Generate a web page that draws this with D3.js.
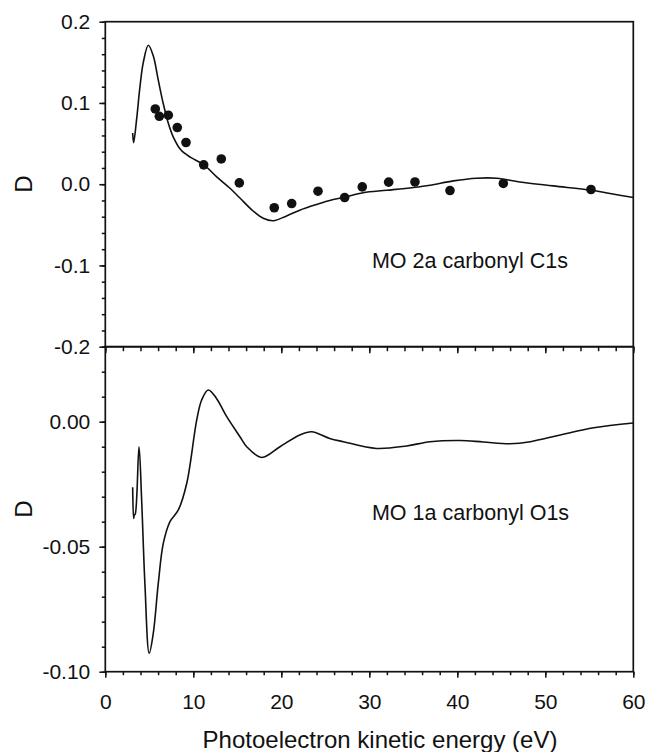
<!DOCTYPE html>
<html>
<head>
<meta charset="utf-8">
<script src="https://cdn.jsdelivr.net/npm/d3@7"></script>
<style>
  html, body { margin: 0; padding: 0; background: #fff; }
  svg { display: block; font-family: "Liberation Sans", Arial, Helvetica, sans-serif; }
</style>
</head>
<body>
<svg id="chart" width="646" height="752"></svg>
<script>
// ---- Data ----
// Top panel: MO 2a carbonyl C1s — theory curve
const topCurveE = [3.11, 3.22, 3.56, 3.94, 4.32, 4.89, 5.45, 6.02, 6.59, 7.16, 7.73, 8.6, 9.7, 11.18, 12.66, 14.17, 15.3, 16.8, 17.95, 19.1, 20.6, 22.1, 24.0, 25.5, 27.2, 29.3, 32.0, 35.0, 36.9, 39.55, 42.2, 44.5, 47.1, 50.9, 55.2, 57.35, 60];
const topCurveD = [0.063, 0.051, 0.08, 0.12, 0.15, 0.171, 0.158, 0.128, 0.099, 0.075, 0.058, 0.042, 0.033, 0.024, 0.009, -0.005, -0.017, -0.033, -0.042, -0.045, -0.039, -0.032, -0.025, -0.020, -0.016, -0.0105, -0.0075, -0.004, -0.0012, 0.0041, 0.0074, 0.0074, 0.0028, -0.0021, -0.0074, -0.0115, -0.0164];
// Top panel: experimental points
const dotE = [5.68, 6.14, 7.16, 8.18, 9.17, 11.18, 13.18, 15.23, 19.2, 21.18, 24.17, 27.2, 29.2, 32.2, 35.19, 39.17, 45.23, 55.19];
const dotD = [0.0926, 0.0836, 0.0849, 0.0697, 0.0513, 0.0238, 0.0311, 0.0016, -0.029, -0.0238, -0.0086, -0.0164, -0.0033, 0.0025, 0.0028, -0.0078, 0.0009, -0.0065];
// Bottom panel: MO 1a carbonyl O1s — theory curve
const botCurveE = [3.11, 3.22, 3.3, 3.4, 3.83, 4.13, 4.5, 4.99, 5.45, 6.02, 6.59, 7.35, 8.3, 9.25, 10.39, 10.95, 11.7, 12.6, 13.8, 15.3, 16.07, 17.77, 19.85, 22.1, 23.45, 25.5, 27.05, 30.8, 34.25, 36.9, 40.3, 42.95, 46.0, 48.3, 51.7, 55.5, 60];
const botCurveD = [-0.0262, -0.0387, -0.0373, -0.037, -0.010, -0.0313, -0.0647, -0.0926, -0.0847, -0.0647, -0.0487, -0.040, -0.0353, -0.0247, 0.0007, 0.0087, 0.0127, 0.0095, 0.002, -0.006, -0.010, -0.0143, -0.010, -0.0053, -0.004, -0.0067, -0.008, -0.0107, -0.0097, -0.008, -0.0075, -0.0081, -0.0088, -0.008, -0.0053, -0.0024, -0.0005];

// Axis ticks / labels
const xMajorTicks = [0, 10, 20, 30, 40, 50, 60];
const xMinorTicks = d3.range(0, 60.001, 2);
const topYMajor = [0.2, 0.1, 0.0, -0.1, -0.2];
const topYMinor = d3.range(-0.2, 0.2001, 0.02).map(v => +v.toFixed(2));
const botYMajor = [0.00, -0.05, -0.10];
const botYMinor = d3.range(-0.10, 0.0301, 0.01).map(v => +v.toFixed(2));
const xTitle = "Photoelectron kinetic energy (eV)";
const yTitle = "D";
const topLabel = "MO 2a carbonyl C1s";
const botLabel = "MO 1a carbonyl O1s";
const topLabelPos = [30.3, -0.1037];
const botLabelPos = [30.3, -0.0393];

// ---- Layout ----
const svg = d3.select("#chart");
const left = 105.3, right = 633.3;
const topY0 = 21.7, topY1 = 346.7, botY1 = 671.7;

const x = d3.scaleLinear().domain([0, 60]).range([left, right]);
const yTop = d3.scaleLinear().domain([-0.2, 0.2]).range([topY1, topY0]);
const yBot = d3.scaleLinear().domain([-0.10, 0.03]).range([botY1, topY1]);

const tickFont = "21px";
const stroke = "#111";
const fmt = (spec) => { const f = d3.format(spec); return d => f(d).replace("\u2212", "-"); };

function styleAxis(g) {
  g.select(".domain").remove();
  g.selectAll("line").attr("stroke", stroke).attr("stroke-width", 1.5);
  g.selectAll("text").attr("fill", "#111").style("font-size", tickFont);
}

// Top panel left axis
svg.append("g").attr("transform", `translate(${left},0)`)
  .call(d3.axisLeft(yTop).tickValues(topYMinor).tickSize(3.5).tickFormat(""))
  .call(styleAxis);
svg.append("g").attr("transform", `translate(${left},0)`)
  .call(d3.axisLeft(yTop).tickValues(topYMajor).tickSize(6).tickPadding(9).tickFormat(fmt(".1f")))
  .call(styleAxis);

// Top panel bottom axis (ticks pointing down into lower panel, no labels)
svg.append("g").attr("transform", `translate(0,${topY1})`)
  .call(d3.axisBottom(x).tickValues(xMinorTicks).tickSize(4.5).tickFormat(""))
  .call(styleAxis);
svg.append("g").attr("transform", `translate(0,${topY1})`)
  .call(d3.axisBottom(x).tickValues(xMajorTicks).tickSize(6.5).tickFormat(""))
  .call(styleAxis);

// Bottom panel left axis
svg.append("g").attr("transform", `translate(${left},0)`)
  .call(d3.axisLeft(yBot).tickValues(botYMinor).tickSize(3.5).tickFormat(""))
  .call(styleAxis);
svg.append("g").attr("transform", `translate(${left},0)`)
  .call(d3.axisLeft(yBot).tickValues(botYMajor).tickSize(6).tickPadding(9).tickFormat(fmt(".2f")))
  .call(styleAxis);

// Bottom panel x axis
svg.append("g").attr("transform", `translate(0,${botY1})`)
  .call(d3.axisBottom(x).tickValues(xMinorTicks).tickSize(3.5).tickFormat(""))
  .call(styleAxis);
svg.append("g").attr("transform", `translate(0,${botY1})`)
  .call(d3.axisBottom(x).tickValues(xMajorTicks).tickSize(6).tickPadding(16).tickFormat(fmt("d")))
  .call(styleAxis);

// Frames
svg.append("rect").attr("x", left).attr("y", topY0).attr("width", right - left).attr("height", topY1 - topY0)
  .attr("fill", "none").attr("stroke", stroke).attr("stroke-width", 1.7);
svg.append("rect").attr("x", left).attr("y", topY1).attr("width", right - left).attr("height", botY1 - topY1)
  .attr("fill", "none").attr("stroke", stroke).attr("stroke-width", 1.7);

// Curves
const topData = topCurveE.map((e, i) => [e, topCurveD[i]]);
const botData = botCurveE.map((e, i) => [e, botCurveD[i]]);
const lineTop = d3.line().x(d => x(d[0])).y(d => yTop(d[1])).curve(d3.curveCatmullRom.alpha(0.5));
const lineBot = d3.line().x(d => x(d[0])).y(d => yBot(d[1])).curve(d3.curveCatmullRom.alpha(0.5));

svg.append("path").datum(topData).attr("d", lineTop)
  .attr("fill", "none").attr("stroke", stroke).attr("stroke-width", 1.6).attr("stroke-linejoin", "round");
svg.append("path").datum(botData).attr("d", lineBot)
  .attr("fill", "none").attr("stroke", stroke).attr("stroke-width", 1.6).attr("stroke-linejoin", "round");

// Dots
svg.append("g").selectAll("circle")
  .data(dotE.map((e, i) => [e, dotD[i]]))
  .join("circle")
  .attr("cx", d => x(d[0])).attr("cy", d => yTop(d[1])).attr("r", 4.8)
  .attr("fill", "#111");

// Annotations
svg.append("text").attr("x", x(topLabelPos[0])).attr("y", yTop(topLabelPos[1]))
  .style("font-size", "21.5px").attr("fill", "#111").text(topLabel);
svg.append("text").attr("x", x(botLabelPos[0])).attr("y", yBot(botLabelPos[1]))
  .style("font-size", "21.5px").attr("fill", "#111").text(botLabel);

// Axis titles
svg.append("text").attr("transform", `translate(32,${(topY0 + topY1) / 2}) rotate(-90)`)
  .attr("text-anchor", "middle").style("font-size", "24px").attr("fill", "#111").text(yTitle);
svg.append("text").attr("transform", `translate(32,${(topY1 + botY1) / 2}) rotate(-90)`)
  .attr("text-anchor", "middle").style("font-size", "24px").attr("fill", "#111").text(yTitle);
svg.append("text").attr("x", 380).attr("y", 748)
  .attr("text-anchor", "middle").style("font-size", "24px").attr("fill", "#111").text(xTitle);
</script>
</body>
</html>
